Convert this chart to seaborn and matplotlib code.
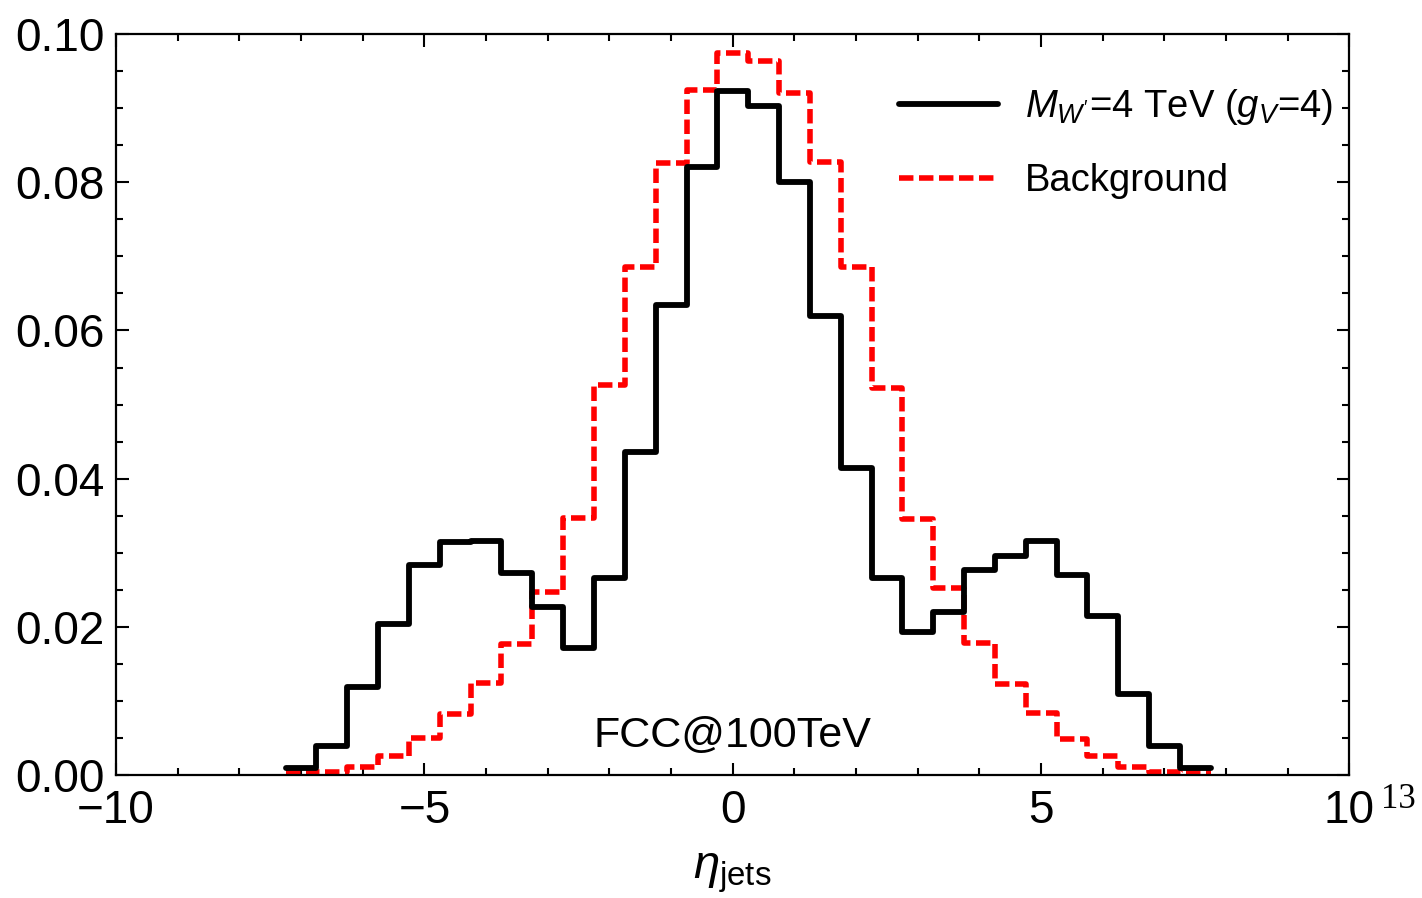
import numpy as np
import pandas as pd
import matplotlib
matplotlib.use("Agg")
import matplotlib.pyplot as plt
import seaborn as sns
from matplotlib.lines import Line2D
from matplotlib.ticker import MultipleLocator

# ---- data ----
bin_centers = [-7.0, -6.5, -6.0, -5.5, -5.0, -4.5, -4.0, -3.5, -3.0, -2.5,
               -2.0, -1.5, -1.0, -0.5, 0.0, 0.5, 1.0, 1.5, 2.0, 2.5,
               3.0, 3.5, 4.0, 4.5, 5.0, 5.5, 6.0, 6.5, 7.0, 7.5]
signal = [0.0010, 0.0039, 0.0119, 0.0204, 0.0284, 0.0314, 0.0316, 0.0273, 0.0227, 0.0172,
          0.0266, 0.0436, 0.0634, 0.0820, 0.0923, 0.0903, 0.0800, 0.0620, 0.0415, 0.0266,
          0.0193, 0.0220, 0.0276, 0.0296, 0.0316, 0.0270, 0.0214, 0.0109, 0.0039, 0.0010]
background = [0.0003, 0.0004, 0.0011, 0.0026, 0.0050, 0.0082, 0.0124, 0.0177, 0.0247, 0.0347,
              0.0526, 0.0685, 0.0826, 0.0924, 0.0974, 0.0964, 0.0920, 0.0827, 0.0686, 0.0523,
              0.0346, 0.0253, 0.0178, 0.0123, 0.0084, 0.0049, 0.0025, 0.0011, 0.0004, 0.0003]
bin_edges = [-7.25 + 0.5 * i for i in range(31)]
xticks = [-10, -5, 0, 5, 10]
yticks = [0.00, 0.02, 0.04, 0.06, 0.08, 0.10]
label_sig = r"$M_{W'}$=4 TeV ($g_V$=4)"
label_bkg = "Background"

df = pd.DataFrame({"eta": bin_centers, "sig": signal, "bkg": background})

sns.set_style("ticks")
plt.rcParams["font.family"] = ["Liberation Sans", "DejaVu Sans"]
plt.rcParams["mathtext.fontset"] = "custom"
plt.rcParams["mathtext.rm"] = "Liberation Sans"
plt.rcParams["mathtext.it"] = "Liberation Sans:italic"
plt.rcParams["mathtext.bf"] = "Liberation Sans:bold"
plt.rcParams["text.color"] = "black"
plt.rcParams["axes.labelcolor"] = "black"
plt.rcParams["xtick.color"] = "black"
plt.rcParams["ytick.color"] = "black"
plt.rcParams["axes.edgecolor"] = "black"

fig = plt.figure(figsize=(14.22, 8.98), dpi=100)
ax = fig.add_axes([0.0816, 0.137, 0.8674, 0.825])

sns.histplot(data=df, x="eta", weights="bkg", bins=bin_edges, element="step",
             fill=False, color="#ff0000", linewidth=4, linestyle=(0, (2.6, 1.0)), ax=ax)
sns.histplot(data=df, x="eta", weights="sig", bins=bin_edges, element="step",
             fill=False, color="black", linewidth=4.2, ax=ax)

ax.set_xlim(-10, 10)
ax.set_ylim(0, 0.1)
ax.set_xticks(xticks)
ax.set_xticklabels(["\u221210", "\u22125", "0", "5", "10"])
ax.set_yticks(yticks)
ax.set_yticklabels([f"{v:.2f}" for v in yticks])
ax.xaxis.set_minor_locator(MultipleLocator(1))
ax.yaxis.set_minor_locator(MultipleLocator(0.005))
ax.tick_params(which="both", direction="in", top=True, right=True, width=1.5)
ax.tick_params(which="major", length=9, labelsize=33)
ax.tick_params(axis="x", which="major", pad=10)
ax.tick_params(axis="y", which="major", pad=8)
ax.tick_params(which="minor", length=5)
for s in ax.spines.values():
    s.set_linewidth(1.6)
    s.set_visible(True)
    s.set_color("black")

ax.set_ylabel("")
ax.set_xlabel(r"$\eta_{\mathrm{jets}}$", fontsize=34, labelpad=13)

ax.text(0, 0.0052, "FCC@100TeV", ha="center", va="center", fontsize=31)
fig.text(1398 / 1422, 1 - 800 / 898, "13", family="Liberation Serif", fontsize=25,
         ha="center", va="center")

handles = [Line2D([], [], color="black", lw=4.2),
           Line2D([], [], color="#ff0000", lw=4, linestyle=(0, (2.6, 1.0)))]
ax.legend(handles, [label_sig, label_bkg], loc="upper left",
          bbox_to_anchor=(0.607, 0.975), frameon=False, fontsize=27.5,
          handlelength=2.6, handletextpad=0.7, labelspacing=0.95)

fig.savefig("out.png", dpi=100)
